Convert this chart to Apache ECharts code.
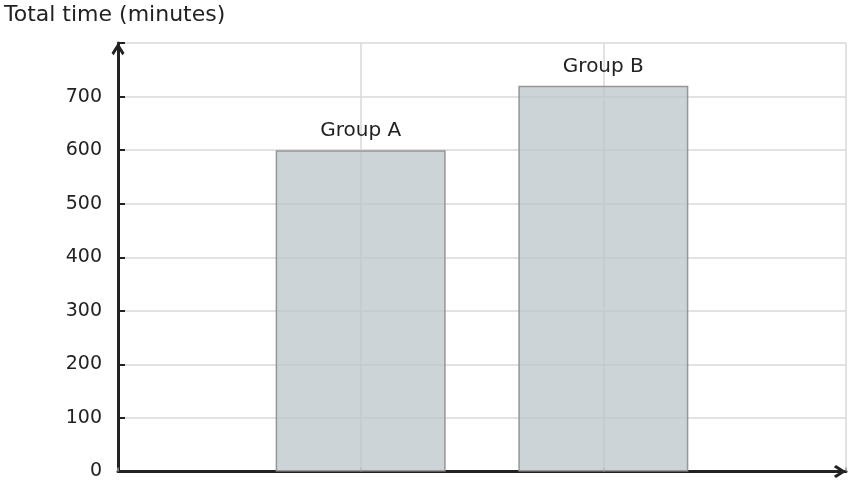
<!DOCTYPE html>
<html>
<head>
<meta charset="utf-8">
<script src="https://cdn.jsdelivr.net/npm/echarts@6/dist/echarts.min.js"></script>
<style>
  html, body { margin: 0; padding: 0; background: #fff; }
  #main { width: 850px; height: 486px; }
</style>
</head>
<body>
<div id="main"></div>
<script>
// x slots: empty edge slots keep the bars at 1/3 and 2/3 of the width
const categories = ["", "Group A", "Group B", ""];
const totalMinutes = [null, 600, 720, null];
const yTicks = [0, 100, 200, 300, 400, 500, 600, 700];

const textColor = "#222";
const gridColor = "#d9d9d9";
const font = "DejaVu Sans";
// open arrow head (chevron) for both axis ends
const chevron = "path://M0,0 L6,9.5 L4,11.5 L0,5 L-4,11.5 L-6,9.5 Z";

const myChart = echarts.init(document.getElementById("main"), null, {
  renderer: "canvas",
});

myChart.setOption({
  animation: false,
  title: {
    text: "Total time (minutes)",
    left: 4,
    top: 4,
    padding: 0,
    textStyle: {
      fontFamily: font,
      fontSize: 22,
      fontWeight: "normal",
      color: textColor,
    },
  },
  grid: { left: 118, right: 4, top: 43, bottom: 14.5 },
  xAxis: {
    type: "category",
    data: categories,
    boundaryGap: false,
    axisLine: {
      lineStyle: { color: textColor, width: 3 },
      symbol: ["none", chevron],
      symbolSize: [13, 12.5],
      symbolOffset: [0, -6],
    },
    axisTick: { inside: true, length: 4, lineStyle: { color: "#999", width: 1.5 } },
    axisLabel: { show: false },
    splitLine: { show: true, lineStyle: { color: gridColor, width: 1.5 } },
  },
  yAxis: {
    type: "value",
    min: 0,
    max: 800,
    interval: 100,
    axisLine: {
      show: true,
      lineStyle: { color: textColor, width: 3 },
      symbol: ["none", chevron],
      symbolSize: [13, 12.5],
      symbolOffset: [0, -6],
    },
    axisTick: { show: true, inside: true, length: 7, lineStyle: { color: textColor, width: 2 } },
    axisLabel: {
      margin: 16,
      fontFamily: font,
      fontSize: 19,
      color: textColor,
      formatter: (v) => (yTicks.includes(v) ? String(v) : ""),
    },
    splitLine: { show: true, lineStyle: { color: gridColor, width: 1.5 } },
  },
  series: [
    {
      type: "bar",
      data: totalMinutes,
      barWidth: 170,
      z: 1,
      itemStyle: {
        color: "rgba(189,199,204,0.77)",
        borderColor: "#969696",
        borderWidth: 1.5,
      },
      label: {
        show: true,
        position: "top",
        distance: 9,
        formatter: "{b}",
        fontFamily: font,
        fontSize: 20,
        color: textColor,
      },
    },
  ],
});
</script>
</body>
</html>
